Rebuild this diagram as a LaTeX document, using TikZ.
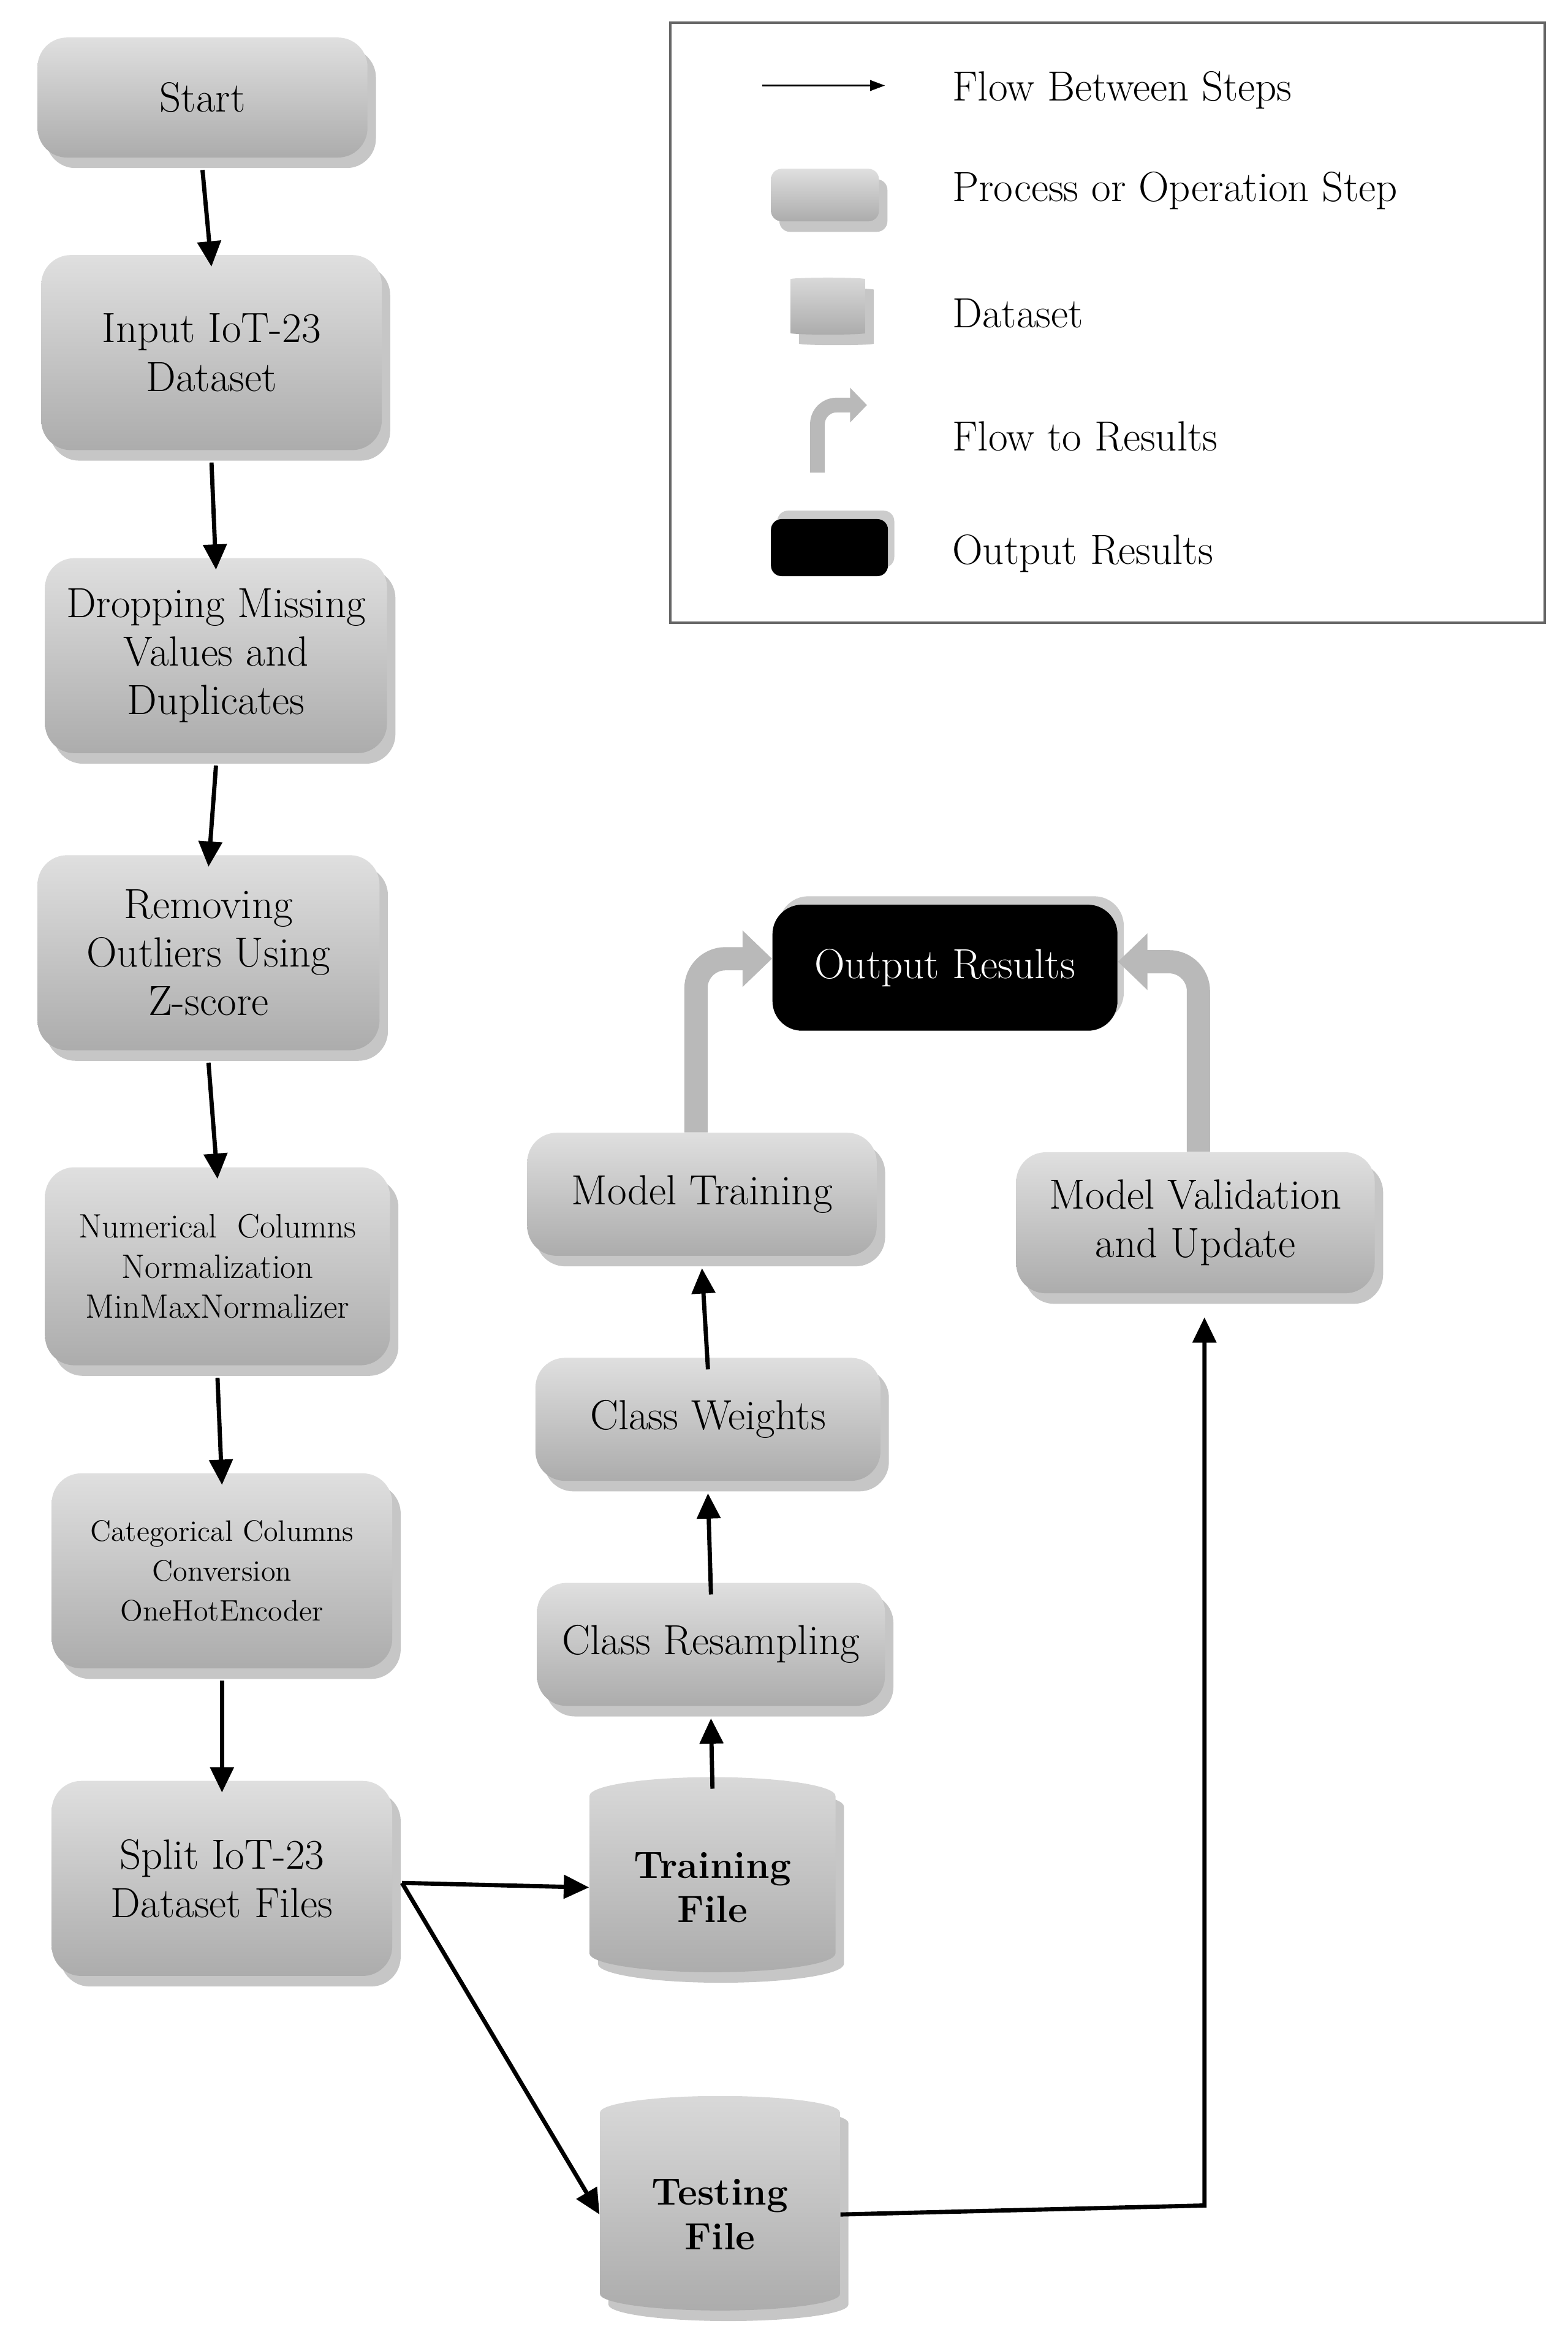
\documentclass[tikz,border=0pt]{standalone}
\usetikzlibrary{shapes.geometric,shadows,arrows.meta,positioning}
\tikzset{
  proc/.style={draw=none,rounded corners=14pt,top color=gray!25,bottom color=gray!65,drop shadow={shadow xshift=4pt,shadow yshift=-5pt,opacity=.45},align=center,font=\fontsize{20}{23}\selectfont},
  data/.style={cylinder,shape border rotate=90,aspect=0.22,draw=none,top color=gray!30,bottom color=gray!65,drop shadow={shadow xshift=4pt,shadow yshift=-5pt,opacity=.45},align=center,font=\bfseries\fontsize{18}{21}\selectfont},
  result/.style={draw=none,rounded corners=14pt,fill=black,text=white,drop shadow={shadow xshift=3pt,shadow yshift=4pt,opacity=.4},font=\fontsize{20}{23}\selectfont},
  flow/.style={-{Triangle[length=12pt,width=11pt]},line width=2pt},
  toresult/.style={-{Triangle[length=14pt,width=26pt]},line width=11pt,gray!55,rounded corners=14pt},
  legtext/.style={anchor=west,font=\fontsize{20}{23}\selectfont}
}
\begin{document}
\begin{tikzpicture}[x=0.025cm,y=-0.025cm]
\useasboundingbox (0,0) rectangle (1045,1565);
% main column
\node[proc,minimum width=220*0.025cm,minimum height=80*0.025cm] (start) at (135,65) {Start};
\node[proc,minimum width=227*0.025cm,minimum height=130*0.025cm] (input) at (141,235) {Input IoT-23\\Dataset};
\node[proc,minimum width=228*0.025cm,minimum height=130*0.025cm] (drop) at (144,437) {Dropping Missing\\Values and\\Duplicates};
\node[proc,minimum width=228*0.025cm,minimum height=130*0.025cm] (outl) at (139,635) {Removing\\Outliers Using\\Z-score};
\node[proc,minimum width=230*0.025cm,minimum height=132*0.025cm,font=\fontsize{16}{19}\selectfont] (norm) at (145,844) {Numerical\ \ Columns\\Normalization\\MinMaxNormalizer};
\node[proc,minimum width=227*0.025cm,minimum height=130*0.025cm,font=\fontsize{14}{19}\selectfont] (cat) at (148,1047) {Categorical Columns\\Conversion\\OneHotEncoder};
\node[proc,minimum width=227*0.025cm,minimum height=130*0.025cm] (split) at (148,1252) {Split IoT-23\\Dataset Files};
% datasets
\node[data,minimum width=164*0.025cm,minimum height=130*0.025cm] (train) at (475,1258) {Training\\File};
\node[data,minimum width=160*0.025cm,minimum height=143*0.025cm] (test) at (480,1476) {Testing\\File};
% right branch
\node[proc,minimum width=232*0.025cm,minimum height=82*0.025cm] (resamp) at (474,1096) {Class Resampling};
\node[proc,minimum width=230*0.025cm,minimum height=82*0.025cm] (weights) at (472,946) {Class Weights};
\node[proc,minimum width=233*0.025cm,minimum height=82*0.025cm] (modtrain) at (468,796) {Model Training};
\node[proc,minimum width=239*0.025cm,minimum height=94*0.025cm] (modval) at (797,815) {Model Validation\\and Update};
\node[result,minimum width=230*0.025cm,minimum height=84*0.025cm] (out) at (630,645) {Output Results};
% connectors
\foreach \a/\b in {start/input,input/drop,drop/outl,outl/norm,norm/cat,cat/split}
  \draw[flow] ([yshift=-0.2cm]\a.south) -- ([yshift=-0.2cm]\b.north);
\coordinate (fork) at (268,1255);
\coordinate (bend) at (803,1470);
\coordinate (valin) at (803,878);
\draw[flow] (fork) -- (train.west);
\draw[flow] (fork) -- (test.west);
\draw[flow] ([yshift=-0.2cm]train.north) -- ([yshift=-0.2cm]resamp.south);
\draw[flow] ([yshift=-0.2cm]resamp.north) -- ([yshift=-0.2cm]weights.south);
\draw[flow] ([yshift=-0.2cm]weights.north) -- ([yshift=-0.2cm]modtrain.south);
\draw[flow] (test.east) -- (bend) -- (valin);
\draw[toresult] ([xshift=-0.1cm]modtrain.north) |- ([yshift=0.15cm]out.west);
\draw[toresult] ([xshift=0.05cm]modval.north) |- ([yshift=0.1cm]out.east);
% legend
\draw[line width=1.2pt,gray!80!black] (447,15) rectangle (1030,415);
\coordinate (l1a) at (508,57); \coordinate (l1b) at (590,57);
\draw[-{Triangle[length=7pt,width=5pt]},line width=0.8pt] (l1a) -- (l1b);
\node[proc,minimum width=72*0.025cm,minimum height=35*0.025cm,rounded corners=5pt] (lproc) at (550,130) {};
\node[data,minimum width=50*0.025cm,minimum height=38*0.025cm] (ldata) at (552,205) {};
\coordinate (lf1) at (545,315); \coordinate (lf2) at (578,270);
\draw[-{Triangle[length=8pt,width=16pt]},line width=7pt,gray!55,rounded corners=9pt] (lf1) |- (lf2);
\node[result,minimum width=78*0.025cm,minimum height=38*0.025cm,rounded corners=5pt] (lres) at (553,365) {};
\node[legtext] (t1) at (630,60) {Flow Between Steps};
\node[legtext] (t2) at (630,127) {Process or Operation Step};
\node[legtext] (t3) at (630,209) {Dataset};
\node[legtext] (t4) at (630,291) {Flow to Results};
\node[legtext] (t5) at (630,369) {Output Results};
\end{tikzpicture}
\end{document}
